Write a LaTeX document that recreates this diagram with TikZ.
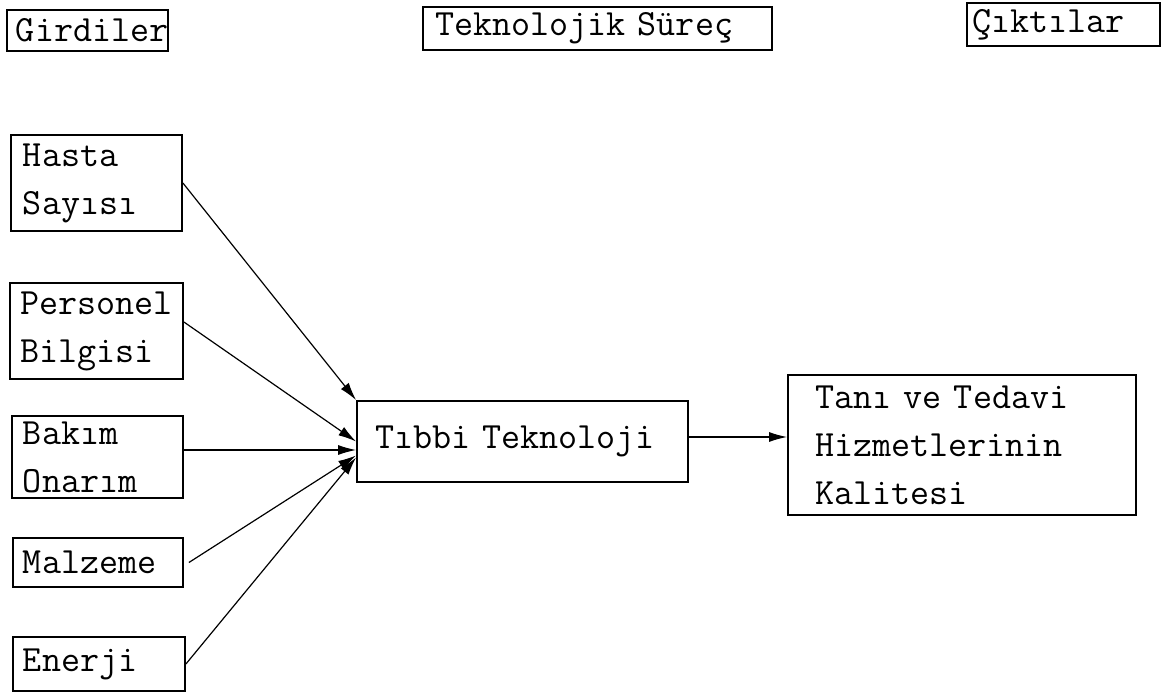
\documentclass[tikz,border=0pt]{standalone}
\usepackage{fontspec}
\usetikzlibrary{arrows.meta,calc}
\tikzset{
  box/.style args={#1/#2/#3}{draw, line width=0.9pt, align=left,
    minimum width=#1*0.5pt, minimum height=#2*0.5pt,
    text width=(#1-2*#3)*0.5pt, inner xsep=#3*0.5pt, inner ysep=0pt,
    font=\ttfamily\fontsize{18.5}{24}\selectfont},
  conn/.style={line width=0.6pt, -{Latex[length=9pt,width=5pt]}}
}
\begin{document}
\begin{tikzpicture}[x=0.5pt,y=-0.5pt]
\useasboundingbox (0,0) rectangle (1167,700);
% header boxes
\node[box=161/41/9] (gir) at (87.5,30.5) {Girdiler};
\node[box=349/43/12] (tek) at (597.5,28.5) {Teknolojik Süreç};
\node[box=193/43/5] (cik) at (1063.5,24.5) {Çıktılar};
% inputs
\node[box=171/96/12] (hasta) at (96.5,183) {Hasta\\Sayısı};
\node[box=173/96/10] (pers) at (96.5,331) {Personel\\Bilgisi};
\node[box=171/82/11] (bakim) at (97.5,457) {Bakım\\Onarım};
\node[box=170/49/10] (malz) at (98,562.5) {Malzeme};
\node[box=172/54/10] (ener) at (99,664) {Enerji};
% process and output
\node[box=331/81/18] (tibbi) at (522.5,441.5) {Tıbbi Teknoloji};
\node[box=348/140/27] (tani) at (962,445) {Tanı ve Tedavi\\Hizmetlerinin\\Kalitesi};
% connectors
\draw[conn] (hasta.east) -- (tibbi.north west);
\draw[conn] ([yshift=4.5pt]pers.east) -- (tibbi.west);
\draw[conn] ([yshift=3.5pt]bakim.east) -- ([yshift=-4.25pt]tibbi.west);
\draw[conn] ([xshift=2.5pt]malz.east) -- ([yshift=-7pt]tibbi.west);
\draw[conn] (ener.east) -- ([yshift=-8pt]tibbi.west);
\draw[conn] ([yshift=2.25pt]tibbi.east) -- ([yshift=2.25pt]tibbi.east -| tani.west);
\end{tikzpicture}
\end{document}
